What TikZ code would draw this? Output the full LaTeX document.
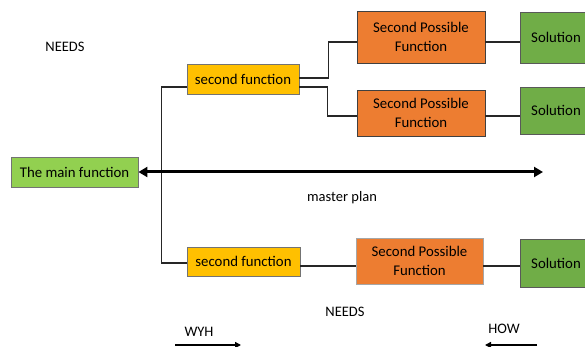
\documentclass[tikz,border=0pt]{standalone}
\usepackage{fontspec}
\setmainfont{Carlito}
\usetikzlibrary{arrows.meta}
\definecolor{mainG}{HTML}{92D050}
\definecolor{solG}{HTML}{70AD47}
\definecolor{orng}{HTML}{ED7D31}
\definecolor{yel}{HTML}{FFC000}
\tikzset{
  box/.style={draw=black!55, line width=0.9pt, inner sep=0pt, align=center, font=\fontsize{14.8}{18.5}\selectfont},
  mainbox/.style={box, fill=mainG},
  sfbox/.style={box, fill=yel},
  spbox/.style={box, fill=orng, draw=black!75},
  spboxlight/.style={box, fill=orng, draw=black!35},
  solbox/.style={box, fill=solG, draw=black!65},
  conn/.style={draw=black!85, line width=1.3pt},
  bigarrow/.style={line width=3pt, {Triangle[length=9pt,width=10pt]}-{Triangle[length=9pt,width=10pt]}},
  smallarrow/.style={line width=1.8pt, -{Triangle[length=6pt,width=6pt]}},
  lbl/.style={font=\fontsize{14.5}{17}\selectfont, inner sep=0pt}
}
\begin{document}
\begin{tikzpicture}[x=1pt,y=-1pt]
\clip (0,0) rectangle (585,347);
\fill[white] (0,0) rectangle (585,347);

\node[mainbox, minimum width=127pt, minimum height=30pt] (main) at (74.5,172) {The main function};
\node[sfbox, minimum width=112pt, minimum height=30pt] (sf1) at (243,79) {second function};
\node[sfbox, minimum width=113pt, minimum height=29pt] (sf2) at (243.5,261.5) {second function};
\node[spbox, minimum width=128pt, minimum height=52pt] (sp1) at (421,37) {Second Possible\\Function};
\node[spbox, minimum width=128pt, minimum height=46pt] (sp2) at (421,113) {Second Possible\\Function};
\node[spboxlight, minimum width=127pt, minimum height=46pt] (sp3) at (419.5,261) {Second Possible\\Function};
\node[solbox, minimum width=72pt, minimum height=51pt] (sol1) at (556,37.5) {Solution};
\node[solbox, minimum width=72pt, minimum height=47pt] (sol2) at (556,110.5) {Solution};
\node[solbox, minimum width=72pt, minimum height=48pt] (sol3) at (556,263) {Solution};

\node[lbl] (needs1) at (65,47) {NEEDS};
\node[lbl] (needs2) at (345,312) {NEEDS};
\node[lbl] (mp) at (342,198) {master plan};
\node[lbl] (wyh) at (199,332) {WYH};
\node[lbl] (how) at (504,329) {HOW};

% tree connectors
\draw[conn] ([yshift=-8pt]sf1.west) -- ++(-25,0) |- ([yshift=-1.5pt]sf2.west);
\draw[conn] ([yshift=1pt]sf1.east) -- ++(29,0) |- ([yshift=-5pt]sp1.west);
\draw[conn] ([yshift=-8pt]sf1.east) -- ++(28,0) |- ([yshift=-3pt]sp2.west);
\draw[conn] ([yshift=-5pt]sp1.east) -- ([yshift=-5pt]sp1.east -| sol1.west);
\draw[conn] ([yshift=-3pt]sp2.east) -- ([yshift=-3pt]sp2.east -| sol2.west);
\draw[conn] ([yshift=-4.5pt]sf2.east) -- ([yshift=-4.5pt]sf2.east -| sp3.west);
\draw[conn] ([yshift=-5pt]sp3.east) -- ([yshift=-5pt]sp3.east -| sol3.west);

% master plan arrow
\coordinate (mpEnd) at (543,172);
\draw[bigarrow] (main.east) -- (mpEnd);

% direction arrows
\coordinate (wyhS) at (175,345);
\coordinate (wyhE) at (241,345);
\draw[smallarrow] (wyhS) -- (wyhE);
\coordinate (howS) at (537,345);
\coordinate (howE) at (485,345);
\draw[smallarrow] (howS) -- (howE);
\end{tikzpicture}
\end{document}
